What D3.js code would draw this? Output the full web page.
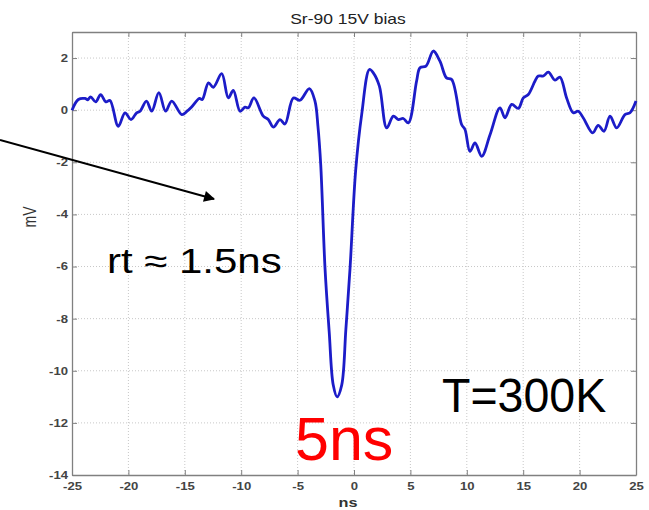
<!DOCTYPE html>
<html>
<head>
<meta charset="utf-8">
<script src="https://cdn.jsdelivr.net/npm/d3@7"></script>
<style>
  html, body { margin: 0; padding: 0; background: #fff; }
  svg { display: block; }
  text { font-family: "Liberation Sans", Arial, sans-serif; }
</style>
</head>
<body>
<script>
// ---- data ----
const timeNs = [-25, -24.44, -23.85, -23.6, -23.35, -22.9, -22.46, -22.0, -21.63, -20.9,
  -20.3, -19.77, -19.27, -18.97, -18.4, -17.93, -17.3, -16.7, -16.16, -15.27,
  -14.8, -14.4, -13.7, -13.45, -12.9, -12.47, -11.73, -11.14, -10.7, -10.1,
  -9.66, -9.37, -8.87, -8.04, -7.6, -7.15, -6.56, -6.12, -5.38, -4.79,
  -3.96, -3.46, -3.2, -2.95, -2.57, -2.2, -1.84, -1.5, -1.09, -0.72,
  -0.35, 0.15, 0.68, 1.37, 1.71, 2.25, 2.9, 3.49, 3.93, 4.37,
  4.82, 5.55, 5.85, 6.38, 7.03, 7.62, 8.2, 8.66, 9.54, 9.84,
  10.28, 10.73, 11.32, 12.06, 12.94, 13.39, 13.98, 14.57, 15.01, 15.45,
  16.05, 16.34, 16.78, 17.23, 17.82, 18.26, 18.85, 19.44, 19.88, 20.33,
  21.16, 21.65, 22.16, 22.7, 23.29, 24.02, 24.47, 25];
const voltageMv = [0, 0.41, 0.45, 0.4, 0.51, 0.32, 0.6, 0.32, 0.37, -0.62,
  -0.1, -0.36, -0.1, -0.04, 0.35, -0.04, 0.67, -0.04, 0.35, -0.17,
  -0.04, 0.12, 0.45, 0.41, 1.05, 0.88, 1.4, 0.47, 0.76, -0.04,
  0.12, 0.09, 0.47, -0.23, -0.36, -0.65, -0.36, -0.53, 0.47, 0.38,
  0.83, 0.35, -0.6, -2.09, -6.06, -8.5, -10.55, -11.0, -10.55, -8.4,
  -6.06, -2.3, -0.17, 1.56, 1.43, 0.92, -0.68, -0.23, -0.36, -0.32,
  -0.49, 1.12, 1.63, 1.69, 2.27, 1.88, 1.24, 1.18, -0.55, -0.74,
  -1.58, -1.26, -1.77, -0.94, 0.09, -0.29, 0.22, 0.07, 0.47, 0.6,
  1.12, 1.31, 1.31, 1.46, 1.15, 1.27, 0.47, -0.1, -0.04, -0.3,
  -0.87, -0.58, -0.81, -0.23, -0.68, -0.17, -0.1, 0.35];
const xTicks = [-25, -20, -15, -10, -5, 0, 5, 10, 15, 20, 25];
const yTicks = [-14, -12, -10, -8, -6, -4, -2, 0, 2];
const xDomain = [-25, 25];
const yDomain = [-14, 3];
const titleText = "Sr-90 15V bias";
const xLabel = "ns";
const yLabel = "mV";
const riseText = "rt \u2248 1.5ns";
const widthText = "5ns";
const tempText = "T=300K";

// ---- layout ----
const W = 649, H = 510;
const m = {left: 72, top: 32, right: 13, bottom: 35};
const iw = W - m.left - m.right, ih = H - m.top - m.bottom;
const SX = 1.25; // horizontal stretch of the original figure text
const fmt = d => String(d); // plain hyphen minus, as in the original

const svg = d3.select("body").append("svg").attr("width", W).attr("height", H);
const defs = svg.append("defs");
defs.append("marker").attr("id", "ah").attr("viewBox", "0 0 10 10")
  .attr("refX", 9).attr("refY", 5).attr("markerWidth", 14).attr("markerHeight", 11)
  .attr("markerUnits", "userSpaceOnUse").attr("orient", "auto")
  .append("path").attr("d", "M0,0 L10,5 L0,10 Z").attr("fill", "#000");

const x = d3.scaleLinear().domain(xDomain).range([0, iw]);
const y = d3.scaleLinear().domain(yDomain).range([ih, 0]);

const g = svg.append("g").attr("transform", `translate(${m.left},${m.top})`);

// grid
g.append("g").selectAll("line").data(xTicks.slice(1, -1)).join("line")
  .attr("x1", d => x(d)).attr("x2", d => x(d)).attr("y1", 0).attr("y2", ih)
  .attr("stroke", "#c8c8c8").attr("stroke-width", 1).attr("stroke-dasharray", "1,2");
g.append("g").selectAll("line").data(yTicks.slice(1)).join("line")
  .attr("y1", d => y(d)).attr("y2", d => y(d)).attr("x1", 0).attr("x2", iw)
  .attr("stroke", "#c8c8c8").attr("stroke-width", 1).attr("stroke-dasharray", "1,2");

// axes (MATLAB style, ticks inward on all sides)
const axB = g.append("g").attr("transform", `translate(0,${ih})`)
  .call(d3.axisBottom(x).tickValues(xTicks).tickFormat(fmt).tickSizeInner(-5).tickSizeOuter(0).tickPadding(8));
const axL = g.append("g")
  .call(d3.axisLeft(y).tickValues(yTicks).tickFormat(fmt).tickSizeInner(-5).tickSizeOuter(0).tickPadding(6));
const axT = g.append("g")
  .call(d3.axisTop(x).tickValues(xTicks).tickSizeInner(-5).tickSizeOuter(0).tickFormat(""));
const axR = g.append("g").attr("transform", `translate(${iw},0)`)
  .call(d3.axisRight(y).tickValues(yTicks).tickSizeInner(-5).tickSizeOuter(0).tickFormat(""));
[axB, axL, axT, axR].forEach(a => {
  a.select(".domain").attr("stroke", "#808080").attr("stroke-width", 1.3);
  a.selectAll(".tick line").attr("stroke", "#808080");
});
axB.selectAll(".tick text").attr("font-size", 10.5).attr("fill", "#444").attr("font-weight", "bold")
  .attr("font-family", "'Liberation Sans', Arial, sans-serif")
  .attr("transform", `scale(${SX},1)`);
axL.selectAll(".tick text").attr("font-size", 10.5).attr("fill", "#444").attr("font-weight", "bold")
  .attr("font-family", "'Liberation Sans', Arial, sans-serif")
  .attr("x", -4 / SX).attr("transform", `scale(${SX},1)`);

// waveform
const line = d3.line().x(d => x(d[0])).y(d => y(d[1])).curve(d3.curveCatmullRom.alpha(0.5));
g.append("path").datum(timeNs.map((t, i) => [t, voltageMv[i]]))
  .attr("d", line).attr("fill", "none").attr("stroke", "#1c1cc8")
  .attr("stroke-width", 2.8).attr("stroke-linejoin", "round");

// title and axis labels
svg.append("text").attr("transform", `translate(${m.left + iw / 2 - 6},${m.top - 8}) scale(${SX},1)`)
  .attr("text-anchor", "middle").attr("font-size", 14).attr("fill", "#222").text(titleText);
svg.append("text").attr("transform", `translate(${m.left + x(0) - 6},${H - 3}) scale(${SX},1)`)
  .attr("text-anchor", "middle").attr("font-size", 13).attr("fill", "#333").attr("font-weight", "bold").text(xLabel);
svg.append("text").attr("transform", `translate(36,${m.top + y(-4.1)}) rotate(-90) scale(1,${SX})`)
  .attr("text-anchor", "middle").attr("font-size", 14).attr("fill", "#333").text(yLabel);

// annotations
svg.append("line").attr("x1", 0).attr("y1", 140).attr("x2", 214).attr("y2", 199)
  .attr("stroke", "#000").attr("stroke-width", 2).attr("marker-end", "url(#ah)");
svg.append("text").attr("transform", `translate(107,273) scale(1.2,1)`)
  .attr("font-size", 35).attr("fill", "#000").text(riseText);
svg.append("text").attr("x", 295).attr("y", 460)
  .attr("font-size", 61).attr("fill", "#ff0000").text(widthText);
svg.append("text").attr("transform", `translate(442,412) scale(0.97,1)`)
  .attr("font-size", 48).attr("fill", "#000").text(tempText);
</script>
</body>
</html>
